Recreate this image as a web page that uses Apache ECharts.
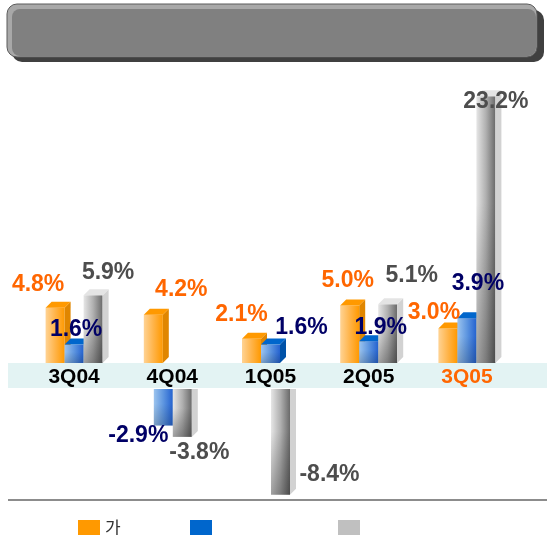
<!DOCTYPE html>
<html>
<head>
<meta charset="utf-8">
<script src="https://cdn.jsdelivr.net/npm/echarts@6/dist/echarts.min.js"></script>
<style>
  html, body { margin: 0; padding: 0; background: #fff; }
  #chart { width: 547px; height: 535px; }
</style>
</head>
<body>
<div id="chart"></div>
<script>
// quarters and growth rates (%)
const categories = ['3Q04', '4Q04', '1Q05', '2Q05', '3Q05'];
const orangeVals = [4.8, 4.2, 2.1, 5.0, 3.0];
const blueVals = [1.6, -2.9, 1.6, 1.9, 3.9];
const grayVals = [5.9, -3.8, -8.4, 5.1, 23.2];
const seriesNames = ['가', ' ', '  '];

// label nudges [dx, dy] from bar end, per series / category (layout only)
const labelNudge = [
  [[-17, -23], [28, -25], [-10, -24], [-2, -25], [-14, -16]],
  [[2, -15], [-25, 10], [31, -17], [12, -13], [11, -34]],
  [[15, -22], [17, 16], [49, -20], [24, -29], [10, 5]]
];

const palette = [
  { front: ['#ffd394', '#ffb44a', '#ff9900'], shade: 0, top: '#ff9900', side: '#e08600', label: '#ff6600', legend: '#ff9900' },
  { front: ['#9cc4ee', '#5e96e0', '#2462d0'], shade: 0.18, top: '#0066cc', side: '#0052a8', label: '#000066', legend: '#0066cc' },
  { front: ['#e6e6e6', '#b0b0b0', '#6a6a6a'], shade: 0.3, top: '#e4e4e4', side: '#d2d2d2', label: '#4d4d4d', legend: '#c0c0c0' }
];

const BAR_W = 19;
const DEPTH = 6;

function makeRender(s) {
  const pal = palette[s];
  return function (params, api) {
    const i = api.value(0);
    const v = api.value(1);
    const base = api.coord([i, 0]);
    const end = api.coord([i, v]);
    const x0 = base[0] - BAR_W * 1.5 + s * BAR_W;
    const x1 = x0 + BAR_W;
    const grad = {
      type: 'linear', x: 0, y: 0, x2: 1, y2: 0,
      colorStops: [
        { offset: 0, color: pal.front[0] },
        { offset: 0.5, color: pal.front[1] },
        { offset: 1, color: pal.front[2] }
      ]
    };
    const shade = {
      type: 'linear', x: 0, y: 0, x2: 0, y2: 1,
      colorStops: [
        { offset: 0, color: 'rgba(0,0,0,0)' },
        { offset: 0.4, color: 'rgba(0,0,0,0)' },
        { offset: 1, color: 'rgba(0,0,0,' + pal.shade + ')' }
      ]
    };
    const top = Math.min(base[1], end[1]);
    const h = Math.abs(end[1] - base[1]);
    const children = [
      { type: 'rect', shape: { x: x0, y: top, width: BAR_W, height: h }, style: { fill: grad } }
    ];
    if (pal.shade > 0) {
      children.push({ type: 'rect', shape: { x: x0, y: top, width: BAR_W, height: h }, style: { fill: shade } });
    }
    if (v >= 0) {
      children.push({
        type: 'polygon',
        shape: { points: [[x1, end[1]], [x1 + DEPTH, end[1] - DEPTH], [x1 + DEPTH, base[1] - DEPTH], [x1, base[1]]] },
        style: { fill: pal.side }
      });
      children.push({
        type: 'polygon',
        shape: { points: [[x0, end[1]], [x0 + DEPTH, end[1] - DEPTH], [x1 + DEPTH, end[1] - DEPTH], [x1, end[1]]] },
        style: { fill: pal.top }
      });
    } else {
      children.push({
        type: 'polygon',
        shape: { points: [[x1, base[1]], [x1 + DEPTH, base[1]], [x1 + DEPTH, end[1] - DEPTH], [x1, end[1]]] },
        style: { fill: pal.side }
      });
    }
    const nd = labelNudge[s][i];
    children.push({
      type: 'text',
      z2: 100,
      style: {
        x: (x0 + x1) / 2 + nd[0],
        y: end[1] + nd[1],
        text: v.toFixed(1) + '%',
        fill: pal.label,
        font: 'bold 23px "Liberation Sans", Arial, sans-serif',
        align: 'center',
        verticalAlign: 'middle'
      }
    });
    return { type: 'group', children: children };
  };
}

const allVals = [orangeVals, blueVals, grayVals];
const series = [];
allVals.forEach(function (vals, s) {
  const pts = vals.map(function (v, i) { return [i, v]; });
  series.push({
    name: seriesNames[s],
    type: 'custom',
    xAxisIndex: 0,
    yAxisIndex: 0,
    encode: { x: 0, y: 1 },
    itemStyle: { color: palette[s].legend },
    renderItem: makeRender(s),
    data: pts.filter(function (p) { return p[1] >= 0; })
  });
  series.push({
    name: seriesNames[s],
    type: 'custom',
    xAxisIndex: 1,
    yAxisIndex: 1,
    encode: { x: 0, y: 1 },
    itemStyle: { color: palette[s].legend },
    renderItem: makeRender(s),
    data: pts.filter(function (p) { return p[1] < 0; })
  });
});

const chart = echarts.init(document.getElementById('chart'));

const legendBase = {
  top: 514,
  icon: 'rect',
  itemWidth: 22,
  itemHeight: 15,
  itemGap: 6,
  selectedMode: false,
  textStyle: { fontSize: 17, color: '#333', fontFamily: '"Noto Sans CJK KR", sans-serif' }
};

chart.setOption({
  animation: false,
  graphic: [
    // title box
    { type: 'rect', z: 0, shape: { x: 12, y: 10, width: 532, height: 52, r: 10 }, style: { fill: '#404040' } },
    { type: 'rect', z: 0, shape: { x: 7, y: 4, width: 530, height: 53, r: 10 }, style: { fill: '#a8a8a8', stroke: '#5a5a5a', lineWidth: 1 } },
    { type: 'rect', z: 0, shape: { x: 12, y: 9, width: 524, height: 47, r: 8 }, style: { fill: '#808080' } },
    // category band
    { type: 'rect', z: 0, shape: { x: 8, y: 363, width: 539, height: 25 }, style: { fill: '#e3f3f3' } },
    // bottom rule
    { type: 'line', z: 0, shape: { x1: 8, y1: 500, x2: 547, y2: 500 }, style: { stroke: '#8c8c8c', lineWidth: 2 } }
  ],
  legend: [
    Object.assign({ left: 73, data: [seriesNames[0]] }, legendBase),
    Object.assign({ left: 185, data: [seriesNames[1]] }, legendBase),
    Object.assign({ left: 333, data: [seriesNames[2]] }, legendBase)
  ],
  grid: [
    { left: 25, width: 491, top: 75.5, height: 287.5 },
    { left: 16, width: 491, top: 389, height: 126 }
  ],
  xAxis: [
    {
      gridIndex: 0,
      type: 'category',
      data: categories,
      axisLine: { show: false },
      axisTick: { show: false },
      axisLabel: {
        interval: 0,
        margin: 3,
        fontSize: 21,
        lineHeight: 23,
        fontWeight: 'bold',
        color: '#000',
        fontFamily: '"Liberation Sans", Arial, sans-serif',
        formatter: function (v) { return v === '3Q05' ? '{hi|' + v + '}' : v; },
        rich: { hi: { color: '#ff6600', fontSize: 21, fontWeight: 'bold', lineHeight: 23, fontFamily: '"Liberation Sans", Arial, sans-serif' } }
      }
    },
    { gridIndex: 1, type: 'category', data: categories, show: false }
  ],
  yAxis: [
    { gridIndex: 0, type: 'value', min: 0, max: 25, show: false },
    { gridIndex: 1, type: 'value', min: -10, max: 0, show: false }
  ],
  series: series
});
</script>
</body>
</html>
